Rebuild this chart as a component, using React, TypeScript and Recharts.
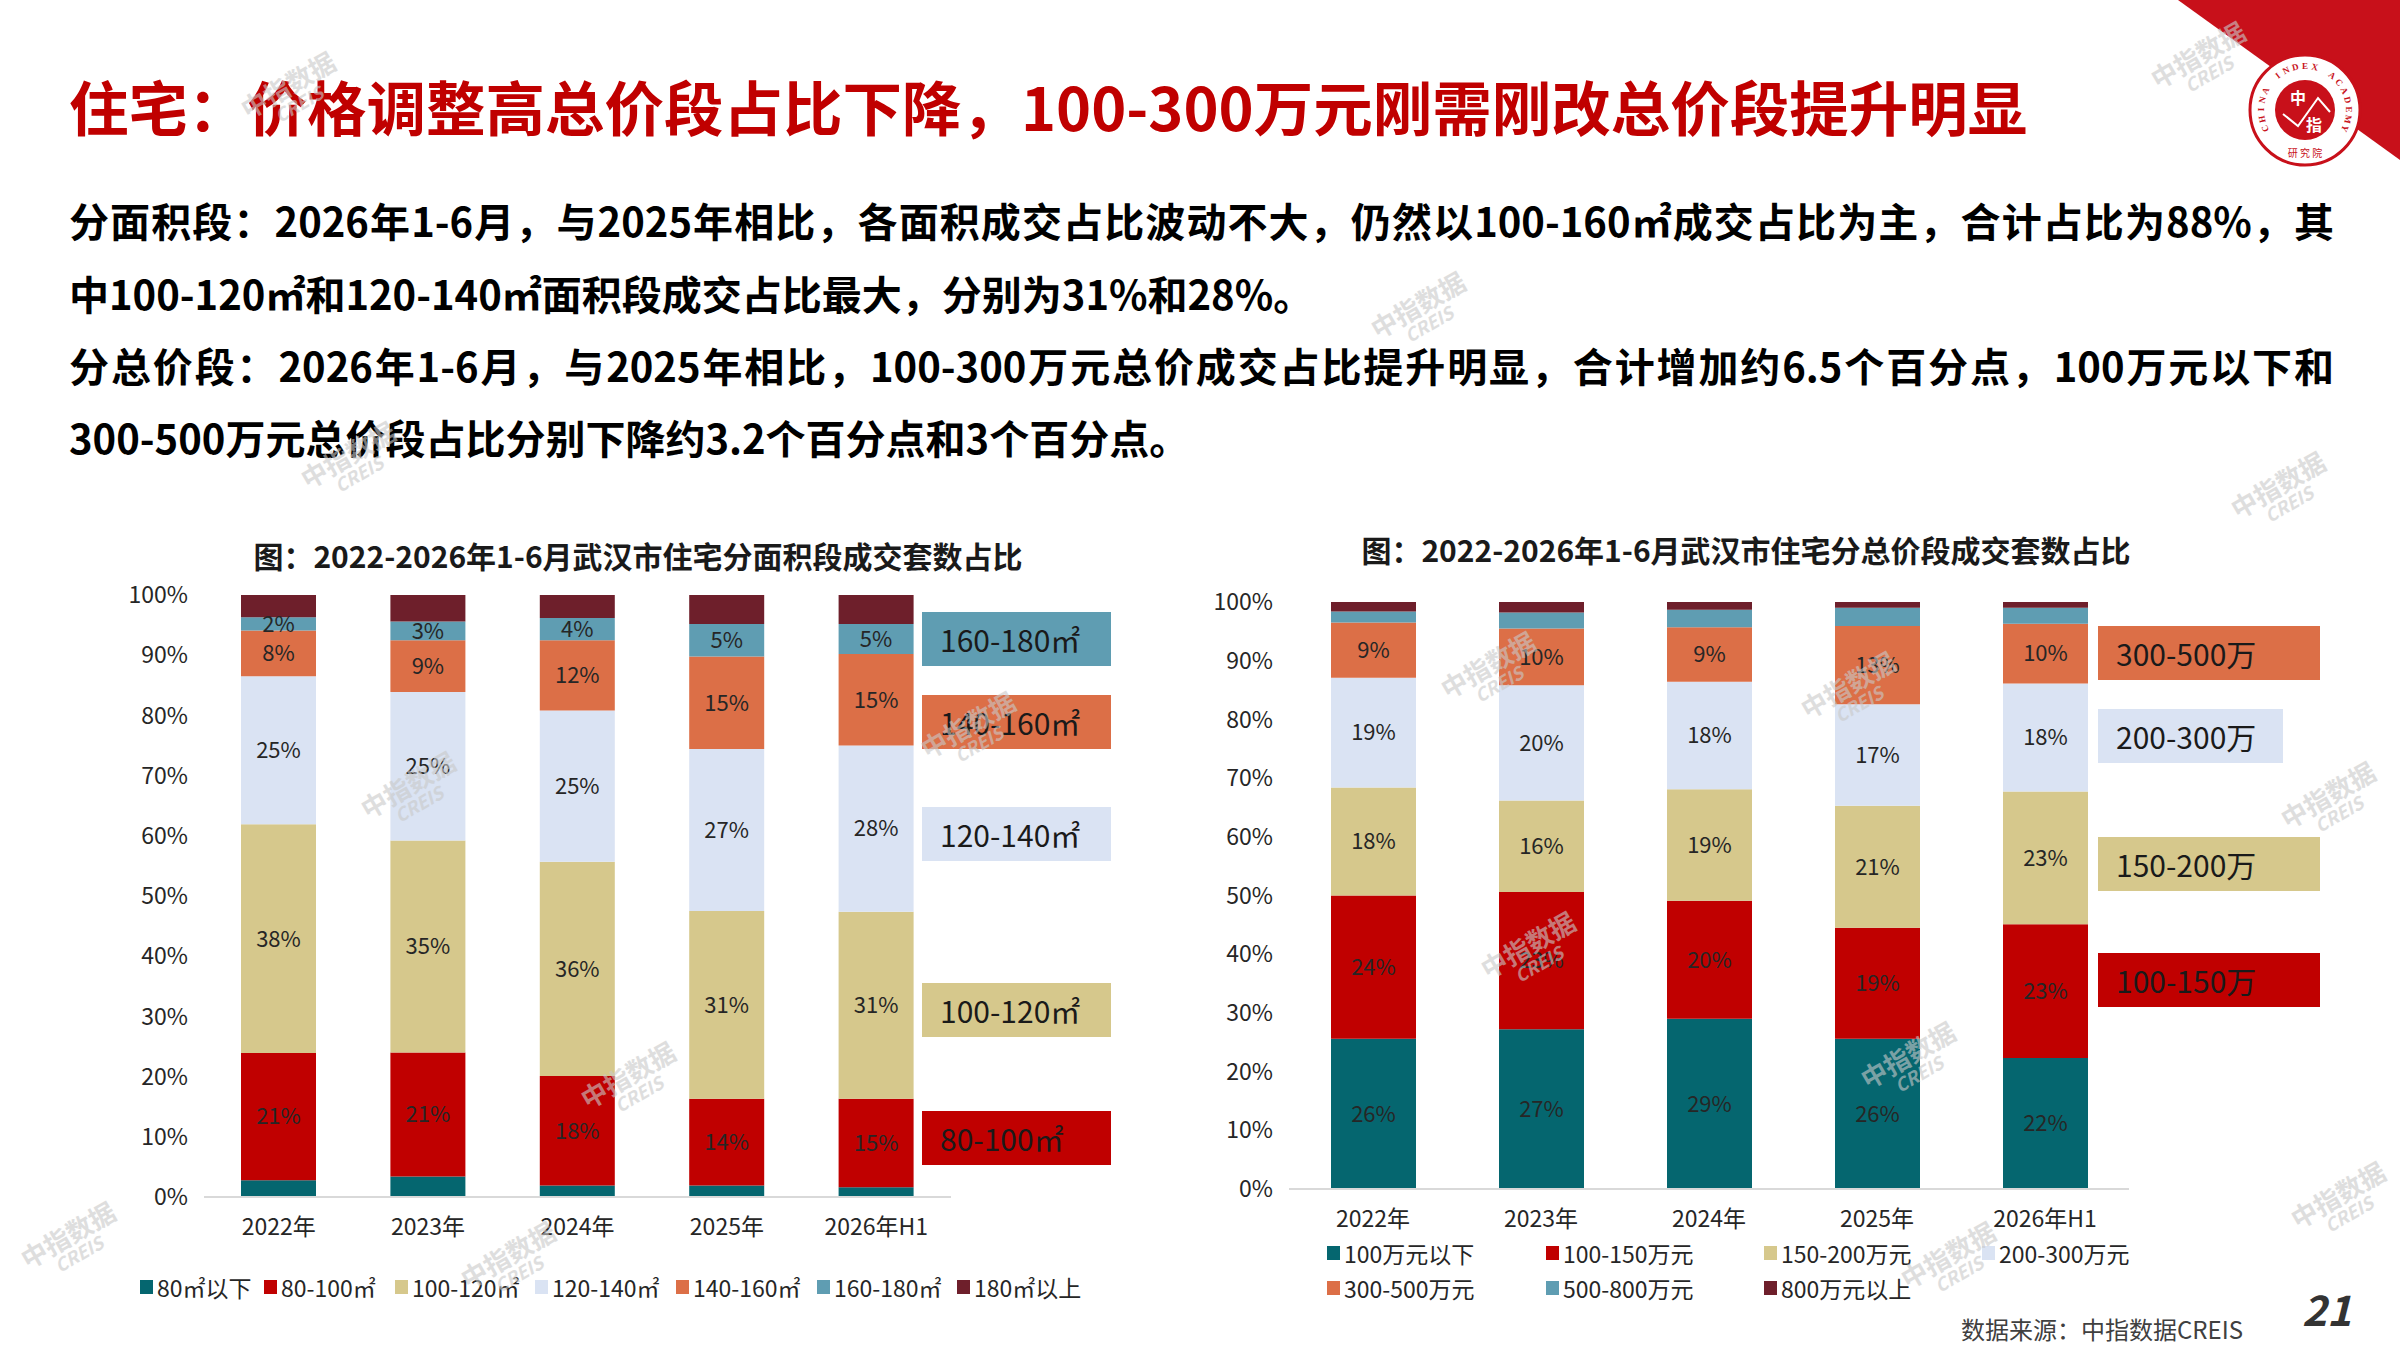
import { BarChart, Bar, XAxis, YAxis, LabelList } from "recharts";

const years = ["2022年", "2023年", "2024年", "2025年", "2026年H1"];

// 分面积段成交套数占比（%）
const areaNames = ["80㎡以下", "80-100㎡", "100-120㎡", "120-140㎡", "140-160㎡", "160-180㎡", "180㎡以上"];
const area80Below = [2.8, 3.4, 1.9, 1.9, 1.6];
const area80to100 = [21.1, 20.6, 18.2, 14.4, 14.7];
const area100to120 = [38.0, 35.2, 35.6, 31.2, 31.1];
const area120to140 = [24.6, 24.7, 25.1, 26.9, 27.6];
const area140to160 = [7.6, 8.6, 11.7, 15.4, 15.2];
const area160to180 = [2.2, 3.1, 3.7, 5.4, 5.0];
const area180Above = [3.7, 4.4, 3.8, 4.8, 4.8];
const areaBoxLabels = ["160-180㎡", "140-160㎡", "120-140㎡", "100-120㎡", "80-100㎡"];

// 分总价段成交套数占比（%）
const priceNames = ["100万元以下", "100-150万元", "150-200万元", "200-300万元", "300-500万元", "500-800万元", "800万元以上"];
const price100Below = [25.6, 27.2, 29.0, 25.6, 22.3];
const price100to150 = [24.4, 23.4, 20.1, 18.9, 22.8];
const price150to200 = [18.4, 15.6, 19.0, 20.8, 22.6];
const price200to300 = [18.7, 19.6, 18.3, 17.3, 18.4];
const price300to500 = [9.4, 9.7, 9.3, 13.3, 10.2];
const price500to800 = [1.9, 2.7, 3.0, 3.1, 2.7];
const price800Above = [1.6, 1.8, 1.3, 1.0, 1.0];
const priceBoxLabels = ["300-500万", "200-300万", "150-200万", "100-150万"];

const percentTicks = [0, 10, 20, 30, 40, 50, 60, 70, 80, 90, 100];

const colors = ["#05666F", "#C00000", "#D6C88C", "#DAE3F3", "#DC6F47", "#5F9DB2", "#6E1F2B"];

const areaSeries = [area80Below, area80to100, area100to120, area120to140, area140to160, area160to180, area180Above];
const priceSeries = [price100Below, price100to150, price150to200, price200to300, price300to500, price500to800, price800Above];

const toRows = (series: number[][]) =>
  years.map((year, j) => {
    const row: Record<string, string | number> = { year };
    series.forEach((s, i) => (row["s" + i] = s[j]));
    return row;
  });

const areaRows = toRows(areaSeries);
const priceRows = toRows(priceSeries);

const FONT = '"Noto Sans CJK SC", "Noto Sans", sans-serif';
const pct = (v: any) => Math.round(Number(v)) + "%";

const StackChart = ({ rows, width, height, yWidth, top, right, barSize, labelled }: any) => (
  <BarChart width={width} height={height} data={rows} margin={{ top, right, left: 0, bottom: 0 }}>
    <XAxis
      dataKey="year"
      interval={0}
      tickLine={false}
      tickSize={0}
      tickMargin={22}
      height={60}
      axisLine={{ stroke: "#D9D9D9", strokeWidth: 2 }}
      tick={{ fill: "#262626", fontSize: 23 }}
    />
    <YAxis
      domain={[0, 100]}
      ticks={percentTicks}
      width={yWidth}
      tickLine={false}
      axisLine={false}
      tickSize={0}
      tickMargin={16}
      tickFormatter={(v) => v + "%"}
      tick={{ fill: "#262626", fontSize: 23 }}
    />
    {colors.map((c, i) => (
      <Bar key={i} dataKey={"s" + i} stackId="a" fill={c} barSize={barSize} isAnimationActive={false}>
        {labelled.includes(i) && (
          <LabelList dataKey={"s" + i} position="center" formatter={pct} fill="#262626" fontSize={22} />
        )}
      </Bar>
    ))}
  </BarChart>
);

const Box = ({ label, color, left, top, width }: any) => (
  <div
    style={{
      position: "absolute",
      left,
      top,
      width,
      height: 54,
      background: color,
      color: "#1a1a1a",
      fontSize: 30,
      lineHeight: "54px",
      paddingLeft: 18,
      boxSizing: "border-box",
      whiteSpace: "nowrap",
    }}
  >
    {label}
  </div>
);

const LegendItem = ({ name, color, left, top }: any) => (
  <div style={{ position: "absolute", left, top, display: "flex", alignItems: "center", fontSize: 23, color: "#262626", whiteSpace: "nowrap" }}>
    <span style={{ width: 13, height: 14, background: color, marginRight: 4, display: "inline-block" }} />
    {name}
  </div>
);

const watermarks = [
  [240, 70], [1370, 290], [300, 440], [2230, 470], [360, 770], [920, 710], [1440, 650], [1800, 670],
  [2280, 780], [20, 1220], [460, 1240], [1480, 930], [1860, 1040], [1900, 1240], [2150, 40], [580, 1060], [2290, 1180],
];

const Watermark = ({ x, y }: any) => (
  <div
    style={{
      position: "absolute",
      left: x,
      top: y,
      transform: "rotate(-30deg)",
      color: "#c9c9c9",
      opacity: 0.6,
      textAlign: "center",
      lineHeight: 1,
      pointerEvents: "none",
      fontWeight: 700,
    }}
  >
    <div style={{ fontSize: 26 }}>中指数据</div>
    <div style={{ fontSize: 18, fontStyle: "italic" }}>CREIS</div>
  </div>
);

const lineStyle = (top: number, justify: boolean): any => ({
  position: "absolute",
  left: 69,
  top: top - 36,
  width: justify ? 2265 : undefined,
  height: 72,
  lineHeight: "72px",
  fontSize: 40,
  fontWeight: 700,
  color: "#000",
  whiteSpace: "nowrap",
  textAlign: justify ? "justify" : "left",
  textAlignLast: justify ? "justify" : "auto",
});

const ringText = "CHINA INDEX ACADEMY";

const Logo = () => (
  <svg width={2400} height={200} style={{ position: "absolute", left: 0, top: 0 }}>
    <polygon points="2178,0 2400,0 2400,160" fill="#C8101A" />
    <circle cx={2305} cy={110} r={55} fill="#fff" stroke="#C8101A" strokeWidth={3} />
    <circle cx={2305} cy={110} r={30} fill="#C8101A" />
    {ringText.split("").map((ch, k) => {
      const a = -115 + (230 * k) / (ringText.length - 1);
      const rad = ((a - 90) * Math.PI) / 180;
      const x = 2305 + 43 * Math.cos(rad);
      const y = 110 + 43 * Math.sin(rad);
      return (
        <text key={k} x={x} y={y} fontSize={9} fill="#C8101A" fontFamily="serif" fontWeight={700} textAnchor="middle" dominantBaseline="middle" transform={`rotate(${a} ${x} ${y})`}>
          {ch}
        </text>
      );
    })}
    <polyline points="2283,114 2298,126 2318,98 2330,112" fill="none" stroke="#fff" strokeWidth={2} />
    <text x={2298} y={104} fontSize={16} fill="#fff" textAnchor="middle" fontWeight={700}>中</text>
    <text x={2314} y={131} fontSize={16} fill="#fff" textAnchor="middle" fontWeight={700}>指</text>
    <text x={2305} y={157} fontSize={10} fill="#C8101A" textAnchor="middle">研 究 院</text>
  </svg>
);

export default function App() {
  return (
    <div style={{ position: "absolute", left: 0, top: 0, width: 2400, height: 1350, overflow: "hidden", background: "#fff", fontFamily: FONT }}>
      <Logo />
      <div style={{ position: "absolute", left: 69, top: 70, height: 70, lineHeight: "70px", fontSize: 59.5, fontWeight: 700, color: "#C00000", whiteSpace: "nowrap" }}>
        住宅：价格调整高总价段占比下降，100-300万元刚需刚改总价段提升明显
      </div>
      <div style={lineStyle(220, true)}>分面积段：2026年1-6月，与2025年相比，各面积成交占比波动不大，仍然以100-160㎡成交占比为主，合计占比为88%，其</div>
      <div style={lineStyle(293, false)}>中100-120㎡和120-140㎡面积段成交占比最大，分别为31%和28%。</div>
      <div style={lineStyle(365, true)}>分总价段：2026年1-6月，与2025年相比，100-300万元总价成交占比提升明显，合计增加约6.5个百分点，100万元以下和</div>
      <div style={lineStyle(437, false)}>300-500万元总价段占比分别下降约3.2个百分点和3个百分点。</div>

      {/* 左图：分面积段 */}
      <div style={{ position: "absolute", left: 238, top: 533, width: 800, textAlign: "center", fontSize: 30, fontWeight: 700, color: "#1a1a1a", whiteSpace: "nowrap", lineHeight: "44px" }}>
        图：2022-2026年1-6月武汉市住宅分面积段成交套数占比
      </div>
      <div style={{ position: "absolute", left: 0, top: 560 }}>
        <StackChart rows={areaRows} width={960} height={697} yWidth={204} top={35} right={9} barSize={75} labelled={[1, 2, 3, 4, 5]} />
      </div>
      {areaBoxLabels.map((label, k) => (
        <Box key={label} label={label} color={colors[5 - k]} left={922} top={[612, 695, 807, 983, 1111][k]} width={189} />
      ))}
      {areaNames.map((name, i) => (
        <LegendItem key={name} name={name} color={colors[i]} left={[140, 264, 395, 535, 676, 817, 957][i]} top={1270} />
      ))}

      {/* 右图：分总价段 */}
      <div style={{ position: "absolute", left: 1346, top: 527, width: 800, textAlign: "center", fontSize: 30, fontWeight: 700, color: "#1a1a1a", whiteSpace: "nowrap", lineHeight: "44px" }}>
        图：2022-2026年1-6月武汉市住宅分总价段成交套数占比
      </div>
      <div style={{ position: "absolute", left: 1180, top: 560 }}>
        <StackChart rows={priceRows} width={959} height={689} yWidth={109} top={42} right={10} barSize={85} labelled={[0, 1, 2, 3, 4]} />
      </div>
      {priceBoxLabels.map((label, k) => (
        <Box key={label} label={label} color={colors[4 - k]} left={2098} top={[626, 709, 837, 953][k]} width={[222, 185, 222, 222][k]} />
      ))}
      {priceNames.map((name, i) => (
        <LegendItem key={name} name={name} color={colors[i]} left={[1327, 1546, 1764, 1982][i % 4]} top={i < 4 ? 1236 : 1271} />
      ))}

      <div style={{ position: "absolute", left: 1961, top: 1312, fontSize: 24, color: "#404040", whiteSpace: "nowrap", lineHeight: "34px" }}>
        数据来源：中指数据CREIS
      </div>
      <div style={{ position: "absolute", left: 2302, top: 1280, fontSize: 42, fontWeight: 700, fontStyle: "italic", color: "#333", lineHeight: "56px" }}>
        21
      </div>

      {watermarks.map(([x, y], k) => (
        <Watermark key={k} x={x} y={y} />
      ))}
    </div>
  );
}
